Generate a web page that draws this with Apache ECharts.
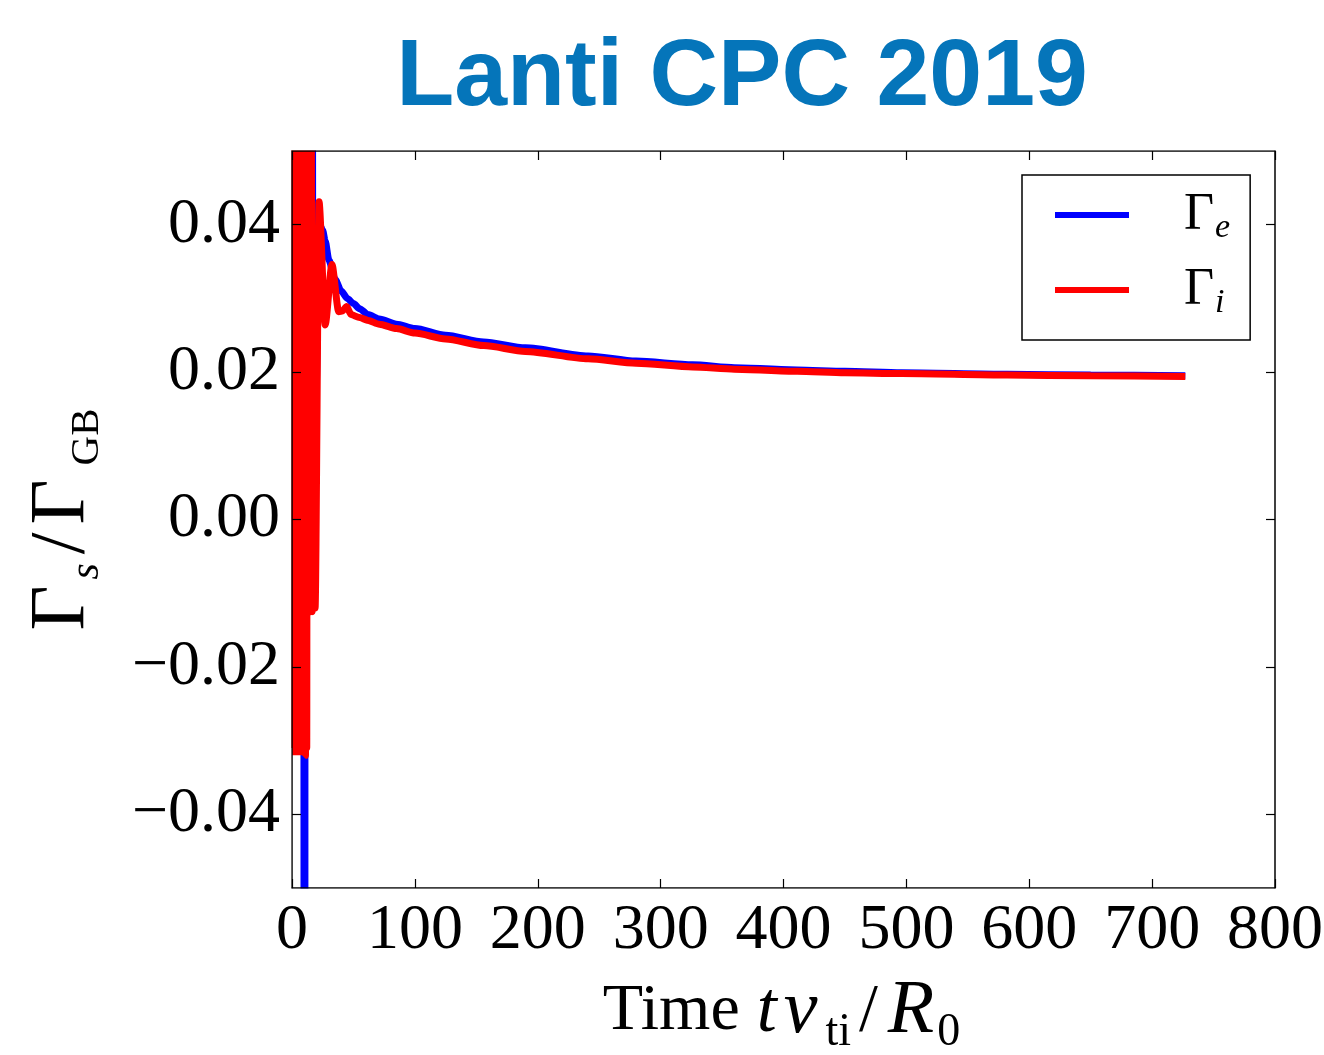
<!DOCTYPE html>
<html><head><meta charset="utf-8">
<script src="https://cdn.jsdelivr.net/npm/echarts@6/dist/echarts.min.js"></script>
<style>html,body{margin:0;padding:0;background:#fff}#c{width:1324px;height:1055px}</style>
</head><body><div id="c"></div>
<script>
const titleText = 'Lanti CPC 2019';
const seriesNames = ['Γe', 'Γi'];
// [time t*v_ti/R0, Gamma_s/Gamma_GB]
const gammaE = [
  [0,0.03],[0.5,0.10],[1,-0.020],[1.5,0.12],[2,-0.025],[2.5,0.09],[3,-0.022],[3.5,0.11],[4,-0.026],[4.5,0.10],
  [5,-0.024],[5.5,0.12],[6,-0.027],[6.5,0.10],[7,-0.025],[7.5,0.11],[8,-0.026],[8.5,0.09],[9,-0.020],[9.5,0.08],
  [10.2,-0.25],[10.9,0.20],[11.5,-0.010],[12,0.10],[12.5,-0.010],[13,0.10],[13.5,-0.005],[14,0.10],[14.5,0.0],[15,0.10],
  [15.5,0.0],[16.2,0.12],[17.2,-0.005],[22.5,0.0400],[25,0.0392],[27,0.0378],[30,0.0352],[35,0.0326],[40,0.0310],[45,0.0300],
  [50,0.0293],[55,0.0286],[62,0.0278],[71,0.0272],[85,0.0265],[100,0.0259],[125,0.0250],[156,0.0241],[190,0.0233],[241,0.0222],
  [280,0.0215],[326,0.0210],[360,0.0206],[411,0.0203],[450,0.0201],[496,0.0199],[582,0.0197],[650,0.0196],[727,0.0195]
];
const gammaI = [
  [0,0.03],[0.5,0.13],[1,-0.031],[1.5,0.15],[2,-0.029],[2.5,0.12],[3,-0.032],[3.5,0.14],[4,-0.030],[4.5,0.13],
  [5,-0.032],[5.5,0.16],[6,-0.031],[6.5,0.12],[7,-0.032],[7.5,0.15],[8,-0.031],[8.5,0.11],[9,-0.032],[9.5,0.14],
  [10,-0.031],[10.5,0.12],[11,-0.032],[11.5,0.10],[12,-0.031],[12.5,0.09],[13,-0.0125],[13.5,0.10],[14,-0.012],[14.5,0.08],
  [15,-0.0125],[15.5,0.07],[16.5,-0.0125],[17.5,0.008],[18.8,-0.012],[22,0.0431],[27,0.0264],[32.5,0.0346],[38,0.0282],[41,0.0283],
  [44.5,0.0289],[48,0.0278],[55,0.0274],[62,0.0270],[71,0.0265],[85,0.0259],[100,0.0253],[125,0.0245],[156,0.0236],[190,0.0228],
  [241,0.0218],[280,0.0212],[326,0.0207],[360,0.0204],[411,0.0201],[450,0.0199],[496,0.0198],[582,0.0196],[650,0.0195],[727,0.0194]
];
const yTickValues = [-0.04, -0.02, 0, 0.02, 0.04];
const xMin = 0, xMax = 800, xInterval = 100;
const yMin = -0.05, yMax = 0.05;

const serif = 'Liberation Serif';
const chart = echarts.init(document.getElementById('c'), null, {renderer: 'canvas'});
const axisLine = {show: true, onZero: false, lineStyle: {color: '#000', width: 1.5}};
const tick = {show: true, inside: true, length: 9, lineStyle: {color: '#000', width: 1.2}};
const yFmt = v => (v < 0 ? '\u2212' : '') + Math.abs(v).toFixed(2);
const mask = (x, y, w, h) => ({type: 'rect', z: 100, silent: true, shape: {x: x, y: y, width: w, height: h}, style: {fill: '#fff'}});

const option = {
  backgroundColor: '#fff',
  animation: false,
  graphic: [
    {type: 'text', x: 742, y: 31,
     style: {text: titleText, textAlign: 'center', textVerticalAlign: 'top',
       fontFamily: 'Liberation Sans', fontWeight: 'bold', fontSize: 95, fill: '#0575BA'}},
    mask(284, 141, 1000, 9.2),
    mask(284, 141, 7.2, 760),
    mask(284, 888.8, 1000, 7)
  ],
  grid: {left: 292, right: 49, top: 151, bottom: 167, containLabel: false, outerBoundsMode: 'none'},
  legend: {
    orient: 'vertical', left: 1022, top: 175,
    padding: [10, 20, 20, 33], itemGap: 15, itemWidth: 74, itemHeight: 6, icon: 'rect',
    borderColor: '#000', borderWidth: 1.5, borderRadius: 0, backgroundColor: '#fff',
    selectedMode: false,
    data: seriesNames,
    formatter: n => n === 'Γe' ? '{g|Γ}{s|e}' : '{g|Γ}{s|i}',
    textStyle: {
      fontFamily: serif, fontSize: 50, lineHeight: 60, color: '#000',
      rich: {
        g: {fontFamily: serif, fontSize: 52, color: '#000', padding: [0, 0, 0, 50]},
        s: {fontFamily: serif, fontSize: 34, fontStyle: 'italic', color: '#000', padding: [26, 0, 0, 1]}
      }
    }
  },
  xAxis: [{
    type: 'value', min: xMin, max: xMax, interval: xInterval, position: 'bottom', z: 10,
    axisLine: axisLine, axisTick: tick, splitLine: {show: false},
    axisLabel: {fontFamily: serif, fontSize: 64, color: '#000', margin: 11},
    name: '{n|Time}{t|t}{v|v}{s|ti}{sl|/}{r|R}{s|0}', nameLocation: 'middle', nameGap: 80,
    nameTextStyle: {
      fontFamily: serif, fontSize: 66, color: '#000',
      rich: {
        n: {fontFamily: serif, fontSize: 66, color: '#000'},
        t: {fontFamily: serif, fontSize: 72, fontStyle: 'italic', color: '#000', padding: [0, 3, 0, 17]},
        v: {fontFamily: serif, fontSize: 76, fontStyle: 'italic', color: '#000', padding: [0, 8, 0, 4]},
        s: {fontFamily: serif, fontSize: 46, color: '#000', padding: [42, 4, 0, 0]},
        sl: {fontFamily: serif, fontSize: 68, color: '#000', padding: [0, 4, 0, 4]},
        r: {fontFamily: serif, fontSize: 76, fontStyle: 'italic', color: '#000', padding: [0, 3, 0, 6]}
      }
    }
  }, {
    type: 'value', min: xMin, max: xMax, interval: xInterval, position: 'top', z: 10,
    axisLine: axisLine, axisTick: tick, axisLabel: {show: false}, splitLine: {show: false}
  }],
  yAxis: [{
    type: 'value', min: yMin, max: yMax, position: 'left', z: 10,
    axisLine: axisLine, splitLine: {show: false},
    axisTick: Object.assign({customValues: yTickValues}, tick),
    axisLabel: {customValues: yTickValues, formatter: yFmt, fontFamily: serif, fontSize: 64, color: '#000', margin: 12},
    name: '{g|Γ}{s|s}{sl|/}{g|Γ}{b|GB}', nameLocation: 'middle', nameGap: 184, nameRotate: 90,
    nameTextStyle: {
      fontFamily: serif, fontSize: 76, color: '#000',
      rich: {
        g: {fontFamily: serif, fontSize: 78, color: '#000'},
        s: {fontFamily: serif, fontSize: 42, fontStyle: 'italic', color: '#000', padding: [48, 6, 0, 6]},
        sl: {fontFamily: serif, fontSize: 78, color: '#000', padding: [0, 8, 0, 3]},
        b: {fontFamily: serif, fontSize: 41, color: '#000', padding: [48, 0, 0, 14]}
      }
    }
  }, {
    type: 'value', min: yMin, max: yMax, position: 'right', z: 10,
    axisLine: axisLine, splitLine: {show: false},
    axisTick: Object.assign({customValues: yTickValues}, tick),
    axisLabel: {show: false}
  }],
  series: [{
    name: seriesNames[0], type: 'line', data: gammaE, showSymbol: false, symbol: 'none',
    smooth: 0.25, smoothMonotone: 'x',
    xAxisIndex: 0, yAxisIndex: 0, clip: true,
    lineStyle: {color: '#0000FF', width: 7}, itemStyle: {color: '#0000FF'}, z: 2
  }, {
    name: seriesNames[1], type: 'line', data: gammaI, showSymbol: false, symbol: 'none',
    smooth: 0.25, smoothMonotone: 'x',
    xAxisIndex: 0, yAxisIndex: 0, clip: true,
    lineStyle: {color: '#FF0000', width: 7}, itemStyle: {color: '#FF0000'}, z: 3
  }]
};
chart.setOption(option);
</script>
</body></html>
